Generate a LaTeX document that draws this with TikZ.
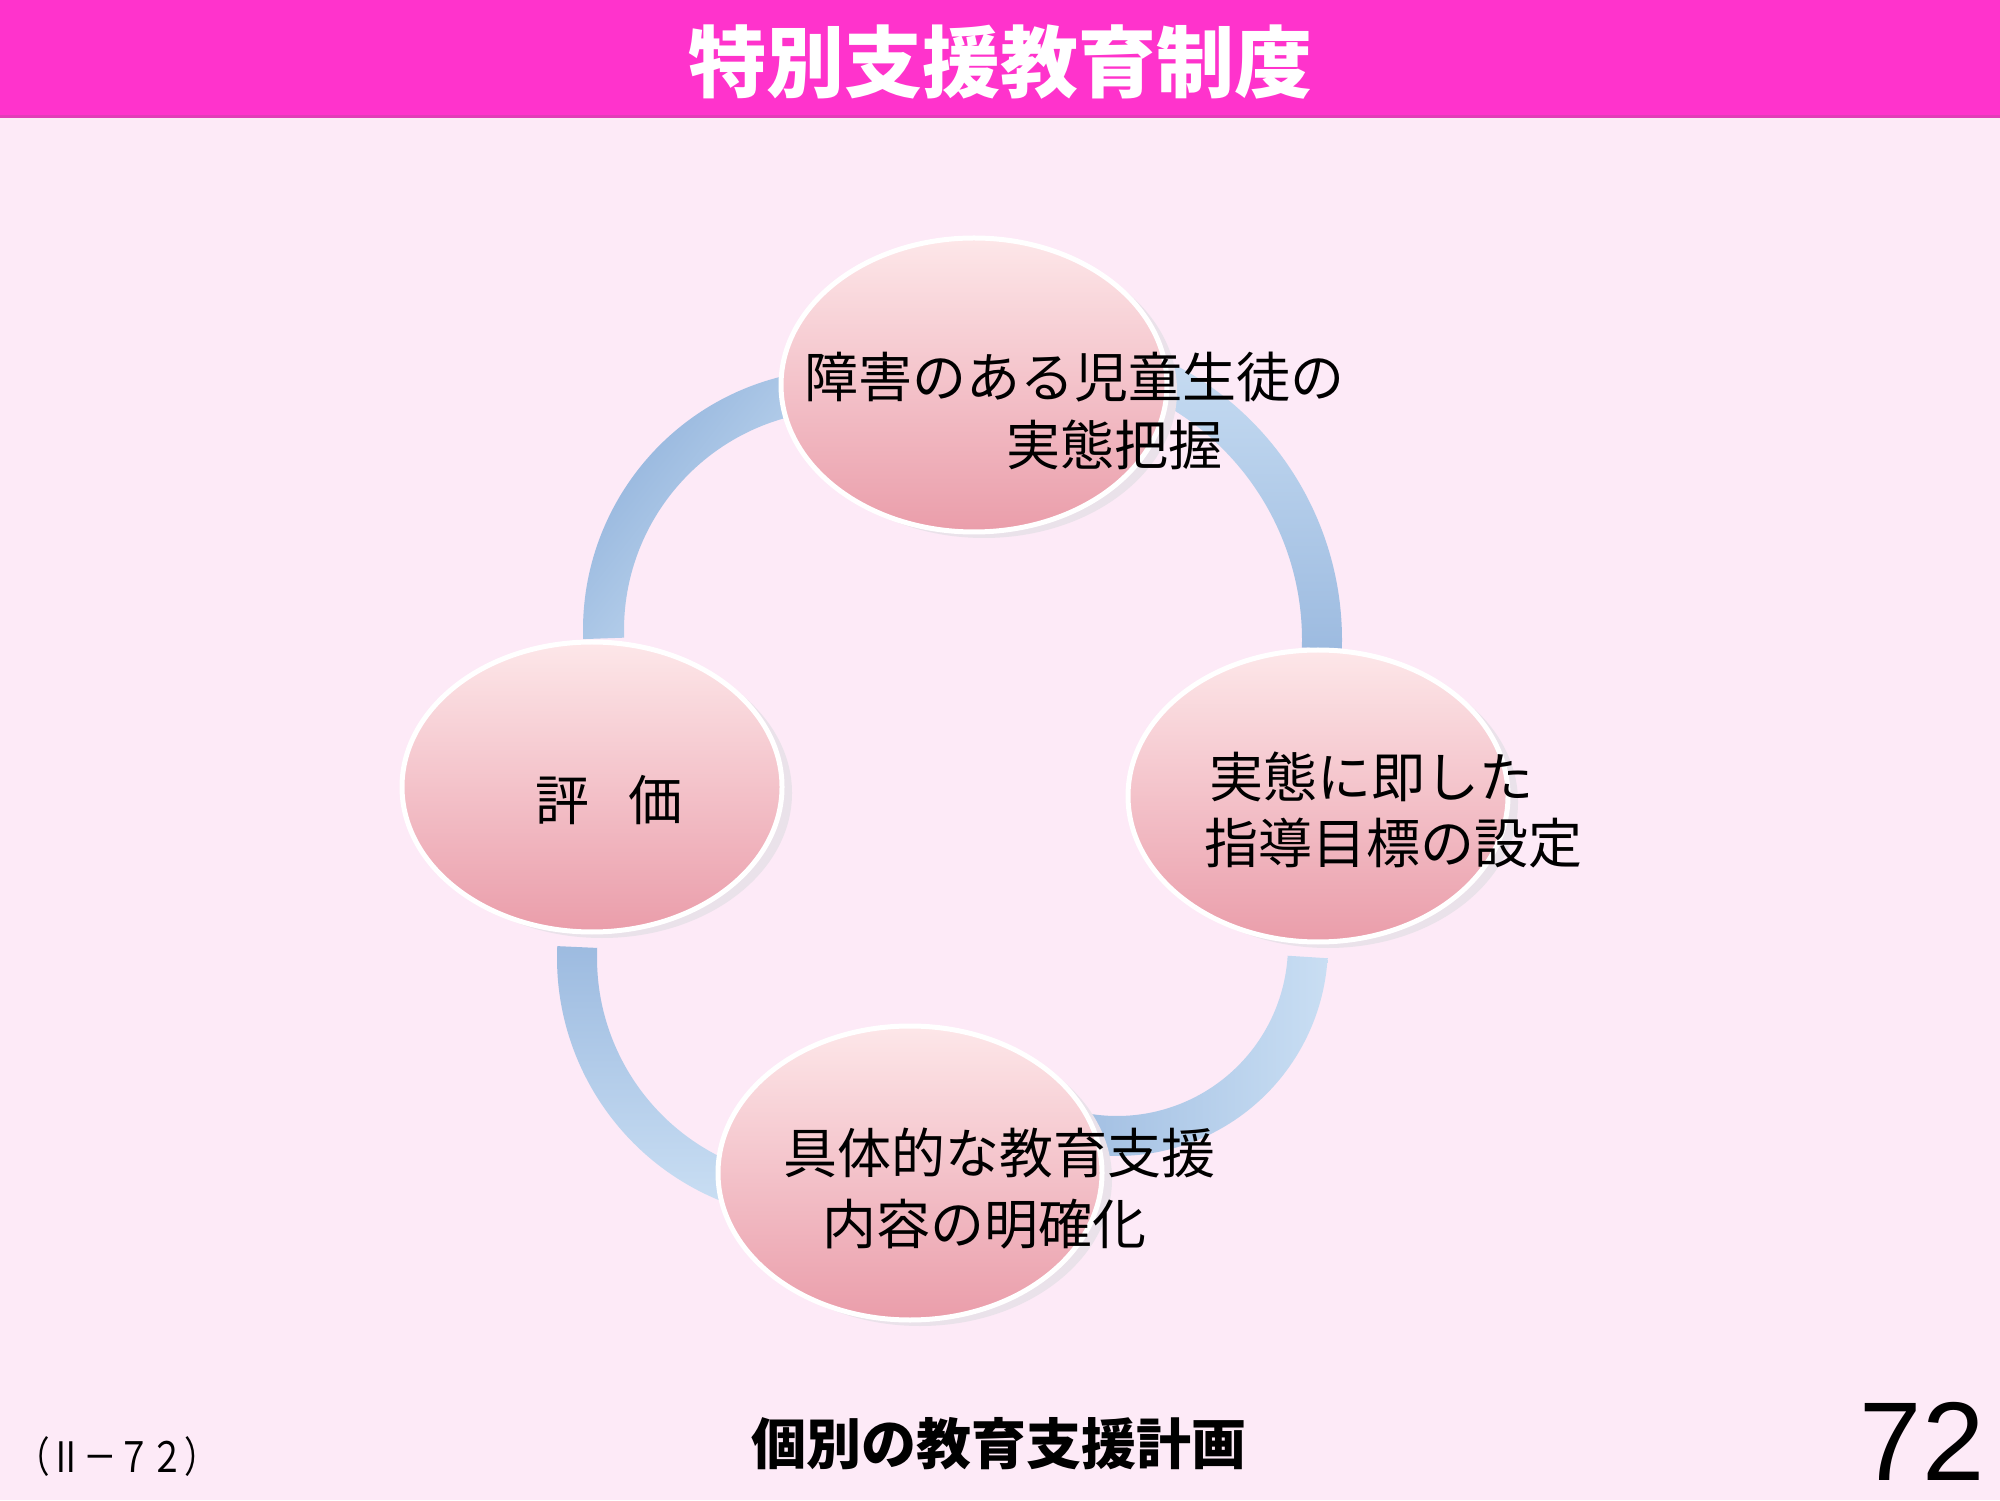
\documentclass[tikz,border=0pt]{standalone}
\usepackage{fontspec}
\usepackage{graphicx}
\usetikzlibrary{shapes.geometric,shadows}
\newfontfamily\jp{Noto Sans CJK JP}
\newfontfamily\lat{Liberation Sans}
\definecolor{bgc}{HTML}{FDEAF7}
\definecolor{barc}{HTML}{FF33CC}
\definecolor{barline}{HTML}{E23CB8}
\definecolor{ringL}{HTML}{C9DEF3}
\definecolor{ringD}{HTML}{9DBBE0}
\definecolor{ringDD}{HTML}{8EB0DA}
\definecolor{pinkTop}{HTML}{FDE7E9}
\definecolor{pinkMid}{HTML}{F5C9CF}
\definecolor{pinkBot}{HTML}{EA9DAA}
\definecolor{shadowc}{HTML}{EAE2EA}
\tikzset{
  bubble/.style={ellipse, draw=white, line width=2.5pt, inner sep=0,
    top color=pinkTop, middle color=pinkMid, bottom color=pinkBot,
    drop shadow={shadow xshift=5pt, shadow yshift=-3pt, fill=shadowc, opacity=1}},
  lbl/.style={inner sep=0, font=\jp\fontsize{27pt}{27pt}\selectfont},
}
\begin{document}
\begin{tikzpicture}[x=0.5pt,y=0.5pt]
\useasboundingbox (0,0) rectangle (2000,1500);
\fill[bgc] (0,0) rectangle (2000,1500);
\fill[barc] (0,1382) rectangle (2000,1500);
\fill[barline] (0,1382) rectangle (2000,1385);
\node[inner sep=0, text=white, font=\jp\bfseries\fontsize{39pt}{39pt}\selectfont] (title) at (1000,1438) {特別支援教育制度};

% ring arcs
\coordinate (c1) at (844,870);
\coordinate (c2) at (1032,860);
\coordinate (c3) at (1117,555);
\coordinate (c4) at (819,542);
\shade[top color=ringDD, bottom color=ringL, shading angle=52]
  ([shift={(182:261)}]c1) arc[start angle=182, end angle=100, radius=261]
  -- ([shift={(100:220)}]c1) arc[start angle=100, end angle=182, radius=220] -- cycle;
\shade[top color=ringL, bottom color=ringD]
  ([shift={(80:310)}]c2) arc[start angle=80, end angle=-1.6, radius=310]
  -- ([shift={(-1.6:270)}]c2) arc[start angle=-1.6, end angle=80, radius=270] -- cycle;
\shade[left color=ringD, right color=ringL]
  ([shift={(-3.6:211)}]c3) arc[start angle=-3.6, end angle=-110, radius=211]
  -- ([shift={(-110:171)}]c3) arc[start angle=-110, end angle=-3.6, radius=171] -- cycle;
\shade[top color=ringD, bottom color=ringL]
  ([shift={(177.4:262)}]c4) arc[start angle=177.4, end angle=250, radius=262]
  -- ([shift={(250:222)}]c4) arc[start angle=250, end angle=177.4, radius=222] -- cycle;

% bubbles
\node[bubble, minimum width=193pt, minimum height=147pt] (top) at (974,1115) {};
\node[bubble, minimum width=190pt, minimum height=145pt] (left) at (592,713) {};
\node[bubble, minimum width=190pt, minimum height=146pt] (right) at (1318,704) {};
\node[bubble, minimum width=192pt, minimum height=147pt] (bottom) at (910,327) {};

% labels
\node[lbl] (t1a) at (1074,1123) {障害のある児童生徒の};
\node[lbl] (t1b) at (1114,1055) {実態把握};
\node[lbl] (t2a) at (1371,723) {実態に即した};
\node[lbl] (t2b) at (1393,657) {指導目標の設定};
\node[lbl] (t3) at (609,700) {評\hspace{0.72em}価};
\node[lbl] (t4a) at (999,347) {具体的な教育支援};
\node[lbl] (t4b) at (984,276) {内容の明確化};

% footer
\node[inner sep=0, font=\jp\bfseries\fontsize{27.5pt}{27.5pt}\selectfont] (cap) at (999,56) {個別の教育支援計画};
\node[inner sep=0, font=\jp\fontsize{21pt}{21pt}\selectfont] (code) at (117,43) {\scalebox{0.8}[1]{（Ⅱ－７２）}};
\node[inner sep=0, anchor=base, font=\lat\fontsize{56pt}{56pt}\selectfont] (page) at (1922,20) {72};
\end{tikzpicture}
\end{document}
